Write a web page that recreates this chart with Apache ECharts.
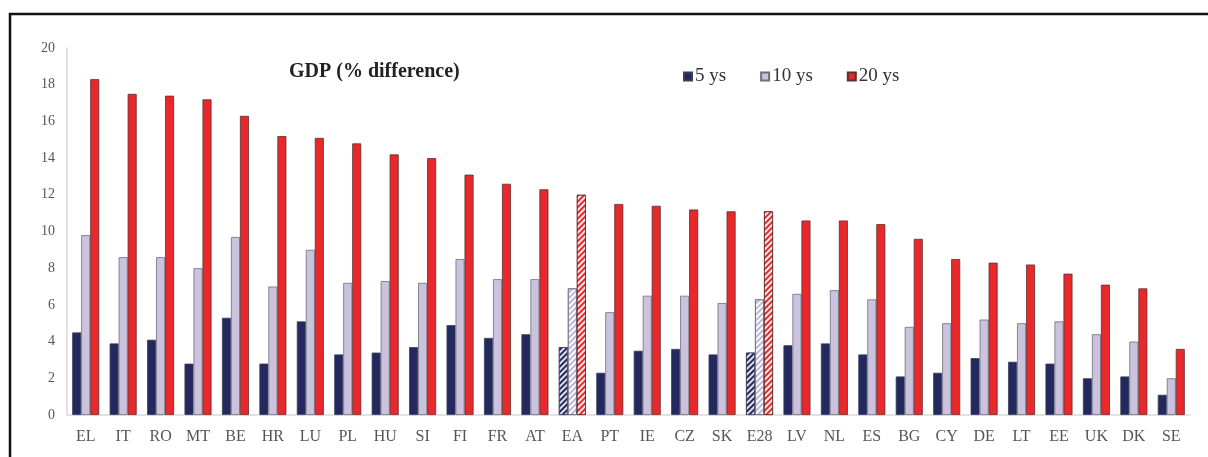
<!DOCTYPE html>
<html>
<head>
<meta charset="utf-8">
<script src="https://cdn.jsdelivr.net/npm/echarts@6/dist/echarts.min.js"></script>
<style>
  html, body { margin: 0; padding: 0; background: #fff; }
  #chart { width: 1208px; height: 457px; }
</style>
</head>
<body>
<div id="chart"></div>
<script>
// countries, sorted by the 20 ys result
const countries = ['EL', 'IT', 'RO', 'MT', 'BE', 'HR', 'LU', 'PL', 'HU', 'SI', 'FI', 'FR', 'AT', 'EA', 'PT',
  'IE', 'CZ', 'SK', 'E28', 'LV', 'NL', 'ES', 'BG', 'CY', 'DE', 'LT', 'EE', 'UK', 'DK', 'SE']

const ys5 = [4.5, 3.9, 4.1, 2.8, 5.3, 2.8, 5.1, 3.3, 3.4, 3.7, 4.9, 4.2, 4.4, 3.7, 2.3,
  3.5, 3.6, 3.3, 3.4, 3.8, 3.9, 3.3, 2.1, 2.3, 3.1, 2.9, 2.8, 2.0, 2.1, 1.1]
const ys10 = [9.8, 8.6, 8.6, 8.0, 9.7, 7.0, 9.0, 7.2, 7.3, 7.2, 8.5, 7.4, 7.4, 6.9, 5.6,
  6.5, 6.5, 6.1, 6.3, 6.6, 6.8, 6.3, 4.8, 5.0, 5.2, 5.0, 5.1, 4.4, 4.0, 2.0]
const ys20 = [18.3, 17.5, 17.4, 17.2, 16.3, 15.2, 15.1, 14.8, 14.2, 14.0, 13.1, 12.6, 12.3, 12.0, 11.5,
  11.4, 11.2, 11.1, 11.1, 10.6, 10.6, 10.4, 9.6, 8.5, 8.3, 8.2, 7.7, 7.1, 6.9, 3.6]

// aggregates drawn hatched
const aggregates = ['EA', 'E28']

const serif = '"Liberation Serif", "DejaVu Serif", serif'

// 斜线填充
function hatch (fill, stripe) {
  return {
    color: fill,
    decal: {
      symbol: 'rect',
      symbolSize: 1,
      dashArrayX: [[1, 0]],
      dashArrayY: [2, 2],
      rotation: -Math.PI / 4,
      color: stripe
    }
  }
}

function buildData (values, fill, stripe) {
  return values.map((v, i) => {
    if (aggregates.indexOf(countries[i]) >= 0) {
      return { value: v, itemStyle: hatch(fill, stripe) }
    }
    return v
  })
}

const chart = echarts.init(document.getElementById('chart'))

const option = {
  animation: false,
  backgroundColor: '#fff',
  graphic: [
    {
      type: 'rect',
      shape: { x: 10, y: 14, width: 1230, height: 470 },
      style: { fill: 'none', stroke: '#111', lineWidth: 2.5 },
      silent: true
    },
    {
      type: 'text',
      left: 289,
      top: 62,
      style: {
        text: 'GDP (% difference)',
        font: 'bold 20px ' + serif,
        fill: '#222'
      }
    }
  ],
  legend: {
    left: 678,
    top: 62,
    itemWidth: 8,
    itemHeight: 8,
    itemGap: 34,
    icon: 'rect',
    textStyle: { fontFamily: serif, fontSize: 19, color: '#333', padding: [0, 0, 0, -2] },
    data: ['5 ys', '10 ys', '20 ys']
  },
  grid: {
    left: 67,
    right: 18,
    top: 48,
    bottom: 42
  },
  xAxis: {
    type: 'category',
    data: countries,
    axisLine: { lineStyle: { color: '#d9d9d9', width: 1.5 } },
    axisTick: { show: false },
    axisLabel: { fontFamily: serif, fontSize: 16, color: '#555', margin: 14 }
  },
  yAxis: {
    type: 'value',
    min: 0,
    max: 20,
    interval: 2,
    splitLine: { show: false },
    axisLine: { show: true, lineStyle: { color: '#d9d9d9', width: 1.5 } },
    axisTick: { show: false },
    axisLabel: { fontFamily: serif, fontSize: 14, color: '#555', margin: 12 }
  },
  series: [
    {
      name: '5 ys',
      type: 'bar',
      barWidth: 9,
      barGap: '0%',
      data: buildData(ys5, '#23295e', 'rgba(255,255,255,0.85)'),
      itemStyle: { color: '#23295e', borderColor: '#3a3f5a', borderWidth: 0.8 }
    },
    {
      name: '10 ys',
      type: 'bar',
      barWidth: 9,
      barGap: '0%',
      data: buildData(ys10, '#ffffff', '#bdb5d6'),
      itemStyle: { color: '#cbc3de', borderColor: '#6f6c7c', borderWidth: 0.8 }
    },
    {
      name: '20 ys',
      type: 'bar',
      barWidth: 9,
      barGap: '0%',
      data: buildData(ys20, '#e8282b', 'rgba(255,255,255,0.9)'),
      itemStyle: { color: '#e8282b', borderColor: '#5a3030', borderWidth: 0.8 }
    }
  ]
}

chart.setOption(option)
</script>
</body>
</html>
